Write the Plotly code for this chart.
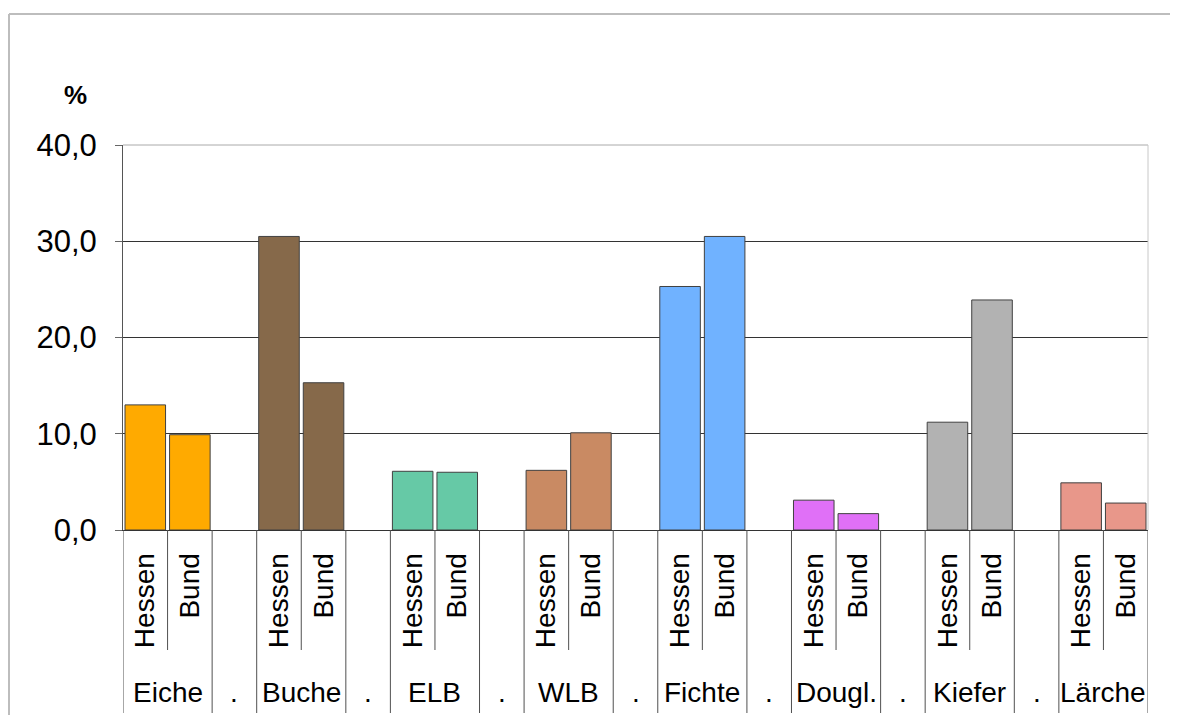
import plotly.graph_objects as go

groups = ["Eiche", "Buche", "ELB", "WLB", "Fichte", "Dougl.", "Kiefer", "Lärche"]
regions = ["Hessen", "Bund"]
hessen = [13.0, 30.5, 6.1, 6.2, 25.3, 3.1, 11.2, 4.9]
bund = [9.9, 15.3, 6.0, 10.1, 30.5, 1.7, 23.9, 2.8]
colors = ["#FFAA00", "#86694A", "#66C9A6", "#C98A63", "#70B2FF", "#E070F7", "#B2B2B2", "#E8978A"]
y_ticks = [0, 10, 20, 30, 40]

FONT = "Liberation Sans, Arial, sans-serif"

# plot-area geometry (figure pixels)
PL, PT, PW, PH = 115, 137, 1025, 385
FIG_W, FIG_H = 1170, 707


def px_x(fx):
    return (fx - PL) / PW


def px_y(fy):
    return (PT + PH - fy) / PH


cats, xs, ys, cols, tickvals, ticktext = [], [], [], [], [], []
gap_idx, group_center, short_div = [], [], []
for i, g in enumerate(groups):
    for r, v in zip(regions, [hessen[i], bund[i]]):
        c = f"{g} {r}"
        cats.append(c)
        xs.append(c)
        ys.append(v)
        cols.append(colors[i])
        tickvals.append(c)
        ticktext.append(r)
    group_center.append(len(cats) - 1.5)
    short_div.append(len(cats) - 1.5)
    if i < len(groups) - 1:
        cats.append(f"gap{i}")
        gap_idx.append(len(cats) - 1)

n = len(cats)

fig = go.Figure(go.Bar(
    x=xs, y=ys,
    marker=dict(color=cols, line=dict(color="#404040", width=1)),
    showlegend=False,
))

shapes = []
# outer frame (top and left visible)
shapes.append(dict(type="line", xref="paper", yref="paper", x0=px_x(1), x1=1.3, y0=px_y(6), y1=px_y(6),
                   line=dict(color="#BDBDBD", width=2), layer="above"))
shapes.append(dict(type="line", xref="paper", yref="paper", x0=px_x(1), x1=px_x(1), y0=px_y(6), y1=-0.7,
                   line=dict(color="#BDBDBD", width=2), layer="above"))
# plot frame top/right light
shapes.append(dict(type="line", xref="x domain", yref="y domain", x0=0, x1=1, y0=1, y1=1,
                   line=dict(color="#AAAAAA", width=1), layer="above"))
shapes.append(dict(type="line", xref="x domain", yref="y domain", x0=1, x1=1, y0=0, y1=1,
                   line=dict(color="#C8C8C8", width=1), layer="above"))
# dividers in label area
for b in range(n + 1):
    pos = b - 0.5
    short = pos in short_div
    y_end = px_y(642) if short else px_y(705)
    shapes.append(dict(type="line", xref="x", yref="paper", x0=pos, x1=pos, y0=0, y1=y_end,
                       line=dict(color="#505050", width=1)))

annotations = []
for g, cpos in zip(groups, group_center):
    annotations.append(dict(x=cpos, y=px_y(684), xref="x", yref="paper", text=g,
                            showarrow=False, font=dict(family=FONT, size=28, color="black"),
                            xanchor="center", yanchor="middle"))
for gi in gap_idx:
    annotations.append(dict(x=gi, y=px_y(684), xref="x", yref="paper", text=".",
                            showarrow=False, font=dict(family=FONT, size=28, color="black"),
                            xanchor="center", yanchor="middle"))
annotations.append(dict(x=px_x(67), y=px_y(87), xref="paper", yref="paper", text="<b>%</b>",
                        showarrow=False, font=dict(family=FONT, size=26, color="black"),
                        xanchor="center", yanchor="middle"))

fig.update_layout(
    width=FIG_W, height=FIG_H,
    margin=dict(l=PL, r=FIG_W - PL - PW, t=PT, b=FIG_H - PT - PH),
    paper_bgcolor="white", plot_bgcolor="white",
    bargap=0.09,
    separators=",.",
    font=dict(family=FONT, color="black"),
    shapes=shapes,
    annotations=annotations,
    xaxis=dict(type="category", categoryorder="array", categoryarray=cats,
               range=[-0.5, n - 0.5],
               tickvals=tickvals, ticktext=ticktext, tickangle=-90,
               tickfont=dict(family=FONT, size=28, color="black"),
               ticks="", ticklabelstandoff=11,
               showline=True, linecolor="#333333", linewidth=1,
               showgrid=False, zeroline=False),
    yaxis=dict(range=[0, 40], tickvals=y_ticks, tickformat=".1f",
               tickfont=dict(family=FONT, size=31, color="black"),
               ticks="outside", ticklen=7, tickcolor="#666666",
               ticklabelstandoff=12,
               showline=True, linecolor="#555555", linewidth=1,
               showgrid=True, gridcolor="#333333", gridwidth=1,
               zeroline=False),
)

fig.write_html("out.html")
